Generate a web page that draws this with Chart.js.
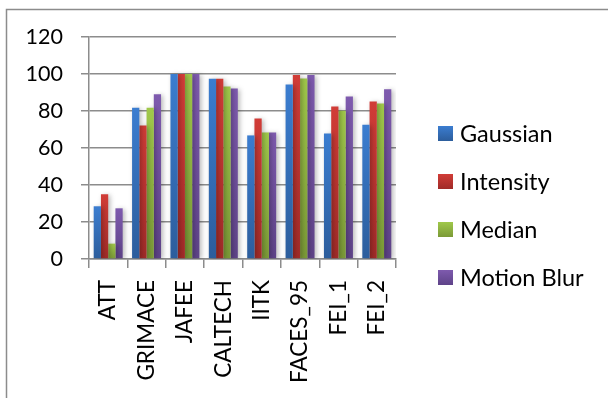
<!DOCTYPE html>
<html><head><meta charset="utf-8">
<script src="https://cdn.jsdelivr.net/npm/chart.js@4/dist/chart.umd.min.js"></script>
<style>html,body{margin:0;padding:0;background:#fff}#wrap{width:608px;height:398px;position:relative}</style>
</head><body><div id="wrap"><canvas id="c" width="608" height="398"></canvas></div>
<script>
const categories = ['ATT','GRIMACE','JAFEE','CALTECH','IITK','FACES_95','FEI_1','FEI_2'];
const seriesNames = ['Gaussian','Intensity','Median','Motion Blur'];
const gaussian   = [28.5, 81.8, 100, 97.5, 66.8, 94.3, 67.8, 72.6];
const intensity  = [35.0, 72.2, 100, 97.5, 76.0, 99.4, 82.4, 85.2];
const median     = [8.3, 81.8, 100, 93.3, 68.4, 97.6, 80.2, 84.1];
const motionBlur = [27.4, 89.0, 100, 92.2, 68.4, 99.4, 87.8, 91.7];
const yTicks = [0,20,40,60,80,100,120];

const topCols = ['#3B7DD0','#D13C37','#A0C84A','#7E5AAE'];
const botCols = ['#2C5D9C','#A02B28','#7B9A37','#5E4388'];
const FONT = 'Lato, "Open Sans", sans-serif';

function grad(i){
  return function(ctx){
    const chart = ctx.chart;
    const y = chart.scales && chart.scales.y;
    if(!chart.chartArea || !y || ctx.raw == null) return topCols[i];
    const top = y.getPixelForValue(ctx.raw);
    const bot = y.getPixelForValue(0);
    if(!isFinite(top) || !isFinite(bot) || top===bot) return topCols[i];
    const g = chart.ctx.createLinearGradient(0, top, 0, bot);
    g.addColorStop(0, topCols[i]);
    g.addColorStop(1, botCols[i]);
    return g;
  };
}

const seriesData = [gaussian, intensity, median, motionBlur];
const datasets = seriesNames.map((n,i)=>({
  label:n, data:seriesData[i], backgroundColor:grad(i), borderWidth:0,
  categoryPercentage:0.755, barPercentage:1.0
}));

const framePlugin = {
  id:'frame',
  beforeDraw(chart){
    const c = chart.ctx;
    c.save();
    c.fillStyle='#fff'; c.fillRect(0,0,chart.width,chart.height);
    c.strokeStyle='#8c8c8c'; c.lineWidth=1.5;
    c.beginPath(); c.moveTo(6.5, chart.height); c.lineTo(6.5,9.5); c.lineTo(chart.width,9.5); c.stroke();
    c.restore();
  },
  beforeDatasetsDraw(chart){
    const c = chart.ctx;
    c.save();
    c.shadowColor='rgba(0,0,0,0.28)'; c.shadowBlur=5; c.shadowOffsetX=2; c.shadowOffsetY=1;
  },
  afterDatasetsDraw(chart){ chart.ctx.restore(); },
  afterDraw(chart){
    const c = chart.ctx;
    c.save();
    c.font = '23.5px ' + FONT;
    c.textBaseline='middle';
    const ys = [133,181,229,277];
    chart.data.datasets.forEach((ds,i)=>{
      const y = ys[i];
      const g = c.createLinearGradient(0,y-7,0,y+8);
      g.addColorStop(0, topCols[i]); g.addColorStop(1, botCols[i]);
      c.fillStyle=g; c.fillRect(438, y-7, 15, 15);
      c.fillStyle='#000';
      c.fillText(ds.label, 460, y+1);
    });
    c.restore();
  }
};

new Chart(document.getElementById('c'), {
  type:'bar',
  data:{labels:categories, datasets},
  plugins:[framePlugin],
  options:{
    responsive:false, animation:false,
    layout:{padding:{top:37, right:212, left:0, bottom:0}},
    plugins:{legend:{display:false}, tooltip:{enabled:false}},
    scales:{
      x:{
        grid:{display:true, drawOnChartArea:false, drawTicks:true, tickLength:9, offset:true, color:'#8c8c8c', lineWidth:1.5},
        border:{display:true, color:'#8c8c8c', width:1.5},
        ticks:{font:{family:FONT, size:22.5}, color:'#000', minRotation:90, maxRotation:90, padding:12, autoSkip:false},
        afterFit(s){ s.height = 398-259; }
      },
      y:{
        min:0, max:120,
        afterBuildTicks(s){ s.ticks = yTicks.map(v=>({value:v})); },
        grid:{color:'#8c8c8c', lineWidth:1.5, tickLength:8, drawTicks:true},
        border:{display:true, color:'#8c8c8c', width:1.5},
        ticks:{font:{family:FONT, size:21.5}, color:'#000', padding:18},
        afterFit(s){ s.width = 89; }
      }
    }
  }
});
</script></body></html>
